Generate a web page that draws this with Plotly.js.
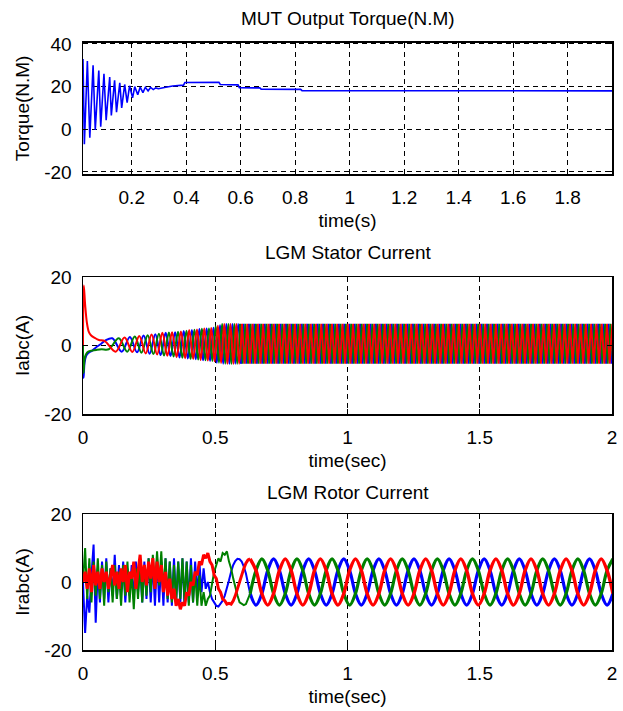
<!DOCTYPE html>
<html><head><meta charset="utf-8">
<script src="https://cdn.plot.ly/plotly-3.0.1.min.js"></script>
<style>html,body{margin:0;padding:0;background:#fff}#chart{width:623px;height:711px}</style>
</head><body><div id="chart"></div>
<script>
// ---------- Top: MUT output torque ----------
const torqueT = [0.021,0.026,0.037,0.046,0.058,0.066,0.079,0.086,0.098,0.106,0.119,0.125,0.137,0.144,0.156,0.163,0.174,0.183,0.192,0.203,0.211,0.222,0.231,0.241,0.250,0.260,0.269,0.279,0.288,0.298,0.32,0.35,0.39,0.395,0.52,0.525,0.59,0.595,0.67,0.675,0.82,0.825,1.963];
const torqueY = [33,-7,32,-4,30,-0.3,27.5,1.2,26,4.2,24.5,6.5,23,8,21.8,10,21,12.5,20.4,14.7,20,16.2,19.8,17.2,19.7,18,19.6,18.6,19.4,19,19.6,20.3,20.7,21.9,22,21,20.8,19.5,19.4,18.8,18.7,18.1,18];

// ---------- Middle: LGM stator current (early transient, peaks/troughs) ----------
const statorRedT = [0,0.003,0.008,0.015,0.022,0.03,0.045,0.06,0.0824,0.1234,0.1571,0.1865,0.2129,0.2370,0.2593,0.2802,0.3000,0.3188,0.3367,0.3538,0.3703,0.3862,0.4015,0.4164,0.4308,0.4448,0.4585,0.4718,0.4848,0.4975,0.5099,0.5221,0.5340,0.5457,0.5571,0.5684,0.5795,0.5904,0.6011];
const statorRedY = [0,17.5,12,6.5,4,3,2.2,1.6,1.3,-1.8,2.3,-1.9,2.8,-2.3,3.2,-2.6,3.7,-3.0,3.9,-3.4,4.1,-3.7,4.5,-3.9,4.7,-4.2,5.0,-4.4,5.1,-4.6,5.8,-5.1,6.3,-5.3,6.3,-5.3,6.3,-5.3,6.3];
const statorGreenT = [0,0.002,0.006,0.012,0.02,0.035,0.05,0.07,0.0972,0.1353,0.1673,0.1956,0.2211,0.2446,0.2664,0.2869,0.3064,0.3248,0.3424,0.3594,0.3756,0.3913,0.4065,0.4212,0.4355,0.4494,0.4630,0.4762,0.4891,0.5017,0.5140,0.5261,0.5379,0.5495,0.5609,0.5721,0.5831,0.594];
const statorGreenY = [0,-8,-4,-2.5,-1.8,-1.5,-1.3,-1.1,-1.1,2.1,-1.8,2.6,-2.1,3.0,-2.5,3.4,-2.9,3.8,-3.2,4.0,-3.6,4.3,-3.9,4.6,-4.1,4.9,-4.3,5.0,-4.5,5.6,-5.0,6.3,-5.3,6.3,-5.3,6.3,-5.3,6.3];
const statorBlueT = [0,0.002,0.006,0.012,0.02,0.035,0.05,0.065,0.085,0.1108,0.1465,0.1771,0.2044,0.2291,0.2520,0.2734,0.2935,0.3126,0.3308,0.3482,0.3649,0.3809,0.3965,0.4115,0.4260,0.4402,0.4540,0.4674,0.4805,0.4933,0.5058,0.5180,0.5300,0.5418,0.5533,0.5647,0.5758,0.5867,0.5975];
const statorBlueY = [0,-9.5,-5,-3,-2.2,-1.5,-0.5,0.3,1.5,2.1,-1.8,2.5,-2.0,2.9,-2.4,3.3,-2.8,3.7,-3.1,3.9,-3.5,4.2,-3.8,4.5,-4.0,4.8,-4.3,5.0,-4.5,5.2,-5.0,5.9,-5.3,6.3,-5.3,6.3,-5.3,6.3,-5.3];

// steady state stator current: successive peaks/troughs, one every 10 ms
const statorSteadyStep = 0.01;
const statorRedSteadyStart = 0.6011, statorGreenSteadyStart = 0.594, statorBlueSteadyStart = 0.5975;
const statorRedSteady = [
6.3,-5.3,6.3,-5.3,6.3,-5.3,6.3,-5.3,6.3,-5.3,
6.3,-5.3,6.3,-5.3,6.3,-5.3,6.3,-5.3,6.3,-5.3,
6.3,-5.3,6.3,-5.3,6.3,-5.3,6.3,-5.3,6.3,-5.3,
6.3,-5.3,6.3,-5.3,6.3,-5.3,6.3,-5.3,6.3,-5.3,
6.3,-5.3,6.3,-5.3,6.3,-5.3,6.3,-5.3,6.3,-5.3,
6.3,-5.3,6.3,-5.3,6.3,-5.3,6.3,-5.3,6.3,-5.3,
6.3,-5.3,6.3,-5.3,6.3,-5.3,6.3,-5.3,6.3,-5.3,
6.3,-5.3,6.3,-5.3,6.3,-5.3,6.3,-5.3,6.3,-5.3,
6.3,-5.3,6.3,-5.3,6.3,-5.3,6.3,-5.3,6.3,-5.3,
6.3,-5.3,6.3,-5.3,6.3,-5.3,6.3,-5.3,6.3,-5.3,
6.3,-5.3,6.3,-5.3,6.3,-5.3,6.3,-5.3,6.3,-5.3,
6.3,-5.3,6.3,-5.3,6.3,-5.3,6.3,-5.3,6.3,-5.3,
6.3,-5.3,6.3,-5.3,6.3,-5.3,6.3,-5.3,6.3,-5.3,
6.3,-5.3,6.3,-5.3,6.3,-5.3,6.3,-5.3,6.3,-5.3,
6.3];
const statorGreenSteady = [
6.3,-5.3,6.3,-5.3,6.3,-5.3,6.3,-5.3,6.3,-5.3,
6.3,-5.3,6.3,-5.3,6.3,-5.3,6.3,-5.3,6.3,-5.3,
6.3,-5.3,6.3,-5.3,6.3,-5.3,6.3,-5.3,6.3,-5.3,
6.3,-5.3,6.3,-5.3,6.3,-5.3,6.3,-5.3,6.3,-5.3,
6.3,-5.3,6.3,-5.3,6.3,-5.3,6.3,-5.3,6.3,-5.3,
6.3,-5.3,6.3,-5.3,6.3,-5.3,6.3,-5.3,6.3,-5.3,
6.3,-5.3,6.3,-5.3,6.3,-5.3,6.3,-5.3,6.3,-5.3,
6.3,-5.3,6.3,-5.3,6.3,-5.3,6.3,-5.3,6.3,-5.3,
6.3,-5.3,6.3,-5.3,6.3,-5.3,6.3,-5.3,6.3,-5.3,
6.3,-5.3,6.3,-5.3,6.3,-5.3,6.3,-5.3,6.3,-5.3,
6.3,-5.3,6.3,-5.3,6.3,-5.3,6.3,-5.3,6.3,-5.3,
6.3,-5.3,6.3,-5.3,6.3,-5.3,6.3,-5.3,6.3,-5.3,
6.3,-5.3,6.3,-5.3,6.3,-5.3,6.3,-5.3,6.3,-5.3,
6.3,-5.3,6.3,-5.3,6.3,-5.3,6.3,-5.3,6.3,-5.3,
6.3,-5.3];
const statorBlueSteady = [
-5.3,6.3,-5.3,6.3,-5.3,6.3,-5.3,6.3,-5.3,6.3,
-5.3,6.3,-5.3,6.3,-5.3,6.3,-5.3,6.3,-5.3,6.3,
-5.3,6.3,-5.3,6.3,-5.3,6.3,-5.3,6.3,-5.3,6.3,
-5.3,6.3,-5.3,6.3,-5.3,6.3,-5.3,6.3,-5.3,6.3,
-5.3,6.3,-5.3,6.3,-5.3,6.3,-5.3,6.3,-5.3,6.3,
-5.3,6.3,-5.3,6.3,-5.3,6.3,-5.3,6.3,-5.3,6.3,
-5.3,6.3,-5.3,6.3,-5.3,6.3,-5.3,6.3,-5.3,6.3,
-5.3,6.3,-5.3,6.3,-5.3,6.3,-5.3,6.3,-5.3,6.3,
-5.3,6.3,-5.3,6.3,-5.3,6.3,-5.3,6.3,-5.3,6.3,
-5.3,6.3,-5.3,6.3,-5.3,6.3,-5.3,6.3,-5.3,6.3,
-5.3,6.3,-5.3,6.3,-5.3,6.3,-5.3,6.3,-5.3,6.3,
-5.3,6.3,-5.3,6.3,-5.3,6.3,-5.3,6.3,-5.3,6.3,
-5.3,6.3,-5.3,6.3,-5.3,6.3,-5.3,6.3,-5.3,6.3,
-5.3,6.3,-5.3,6.3,-5.3,6.3,-5.3,6.3,-5.3,6.3,
-5.3,6.3];

// ---------- Bottom: LGM rotor current ----------
// start-up part, sampled every 8 ms from t = 0
const rotorEarlyStep = 0.008;
const rotorRedEarly = [0,3,-2,4,-3,5,-1,3,-2,4,0,3,-2,2,5,-1,3,-2,4,0,5,-3,3,1,6,-2,4,8,0,5,-1,6,1,7,-2,6,0,5,-3,3,-4,1,-5,-2,-7,-5,-8,-6,-7,-3,-4,0,-1,3,2,6,5,8,7,8.5,6,5,2,1,-2,-3,-5,-5.5,-6.5,-6.3,-6.5,-5.5,-4,-2,0,2.5,4,5.5,6.5,6.8];
const rotorGreenEarly = [0,10,-5,7,-6,6,-4,7,-5,5,-7,6,-3,4,-6,5,-5,3,-7,5,-4,6,-6,3,-8,4,-5,6,-6,5,-4,7,-3,8,-2,9,-1,9,-3,7,-5,6,-6,5,-6,6,-5,7,-6,6,-7,5,-6,3,-7,2,-7,-3,-7,-5,-4,0,3,5,7,6,8.5,8,9,6,4,1,-2,-4,-6,-6.5,-6.8,-6.5,-5,-3.4];
const rotorBlueEarly = [0,-15,-4,-9,2,11,-12,4,-6,6,-5,7,-6,4,-4,8,-5,5,-3,6,-6,4,-4,5,-5,6,-3,5,-6,6,-5,7,-6,6,-7,7,-6,6,-7,7,-6,6,-7,7,-6,6,-6,7,-7,6,-6,7,-6,6,-4,6,-3,4,-2,0,-3,-5,-6,-7,-7.2,-6.5,-5.5,-4,-2,0.5,3,5,6.2,6.8,6.7,6,4.5,2.5,-0.5,-3.4];
// steady part from t = 0.632, six samples per slip period (0.1327 s)
const rotorSteadyStart = 0.632, rotorSteadyStep = 0.02212;
const rotorRedSteady = [6.8,3.4,-3.4,-6.8,-3.4,3.4, 6.8,3.4,-3.4,-6.8,-3.4,3.4, 6.8,3.4,-3.4,-6.8,-3.4,3.4, 6.8,3.4,-3.4,-6.8,-3.4,3.4, 6.8,3.4,-3.4,-6.8,-3.4,3.4, 6.8,3.4,-3.4,-6.8,-3.4,3.4, 6.8,3.4,-3.4,-6.8,-3.4,3.4, 6.8,3.4,-3.4,-6.8,-3.4,3.4, 6.8,3.4,-3.4,-6.8,-3.4,3.4, 6.8,3.4,-3.4,-6.8,-3.4,3.4, 6.8,3.4,-3.4];
const rotorGreenSteady = [-3.4,3.4,6.8,3.4,-3.4,-6.8, -3.4,3.4,6.8,3.4,-3.4,-6.8, -3.4,3.4,6.8,3.4,-3.4,-6.8, -3.4,3.4,6.8,3.4,-3.4,-6.8, -3.4,3.4,6.8,3.4,-3.4,-6.8, -3.4,3.4,6.8,3.4,-3.4,-6.8, -3.4,3.4,6.8,3.4,-3.4,-6.8, -3.4,3.4,6.8,3.4,-3.4,-6.8, -3.4,3.4,6.8,3.4,-3.4,-6.8, -3.4,3.4,6.8,3.4,-3.4,-6.8, -3.4,3.4,6.8];
const rotorBlueSteady = [-3.4,-6.8,-3.4,3.4,6.8,3.4, -3.4,-6.8,-3.4,3.4,6.8,3.4, -3.4,-6.8,-3.4,3.4,6.8,3.4, -3.4,-6.8,-3.4,3.4,6.8,3.4, -3.4,-6.8,-3.4,3.4,6.8,3.4, -3.4,-6.8,-3.4,3.4,6.8,3.4, -3.4,-6.8,-3.4,3.4,6.8,3.4, -3.4,-6.8,-3.4,3.4,6.8,3.4, -3.4,-6.8,-3.4,3.4,6.8,3.4, -3.4,-6.8,-3.4,3.4,6.8,3.4, -3.4,-6.8,-3.4];

// ---------- ticks / titles ----------
const topXTicks = [0.2,0.4,0.6,0.8,1,1.2,1.4,1.6,1.8];
const topXLabels = ['0.2','0.4','0.6','0.8','1','1.2','1.4','1.6','1.8'];
const topYTicks = [-20,0,20,40];
const topYLabels = ['-20','0','20','40'];
const timeTicks = [0,0.5,1,1.5,2];
const timeLabels = ['0','0.5','1','1.5','2'];
const curTicks = [-20,0,20];
const curLabels = ['-20','0','20'];
const panelTitles = ['MUT Output Torque(N.M)','LGM Stator Current','LGM Rotor Current'];

const BLUE = '#0000ff', GREEN = '#008000', RED = '#ff0000';

const traces = [
  {x: torqueT, y: torqueY, xaxis:'x', yaxis:'y', mode:'lines', line:{color:BLUE, width:1.6}},

  {x: statorBlueT, y: statorBlueY, xaxis:'x2', yaxis:'y2', mode:'lines', line:{color:BLUE, width:2, shape:'spline'}},
  {y: statorBlueSteady, x0: statorBlueSteadyStart, dx: statorSteadyStep, xaxis:'x2', yaxis:'y2', mode:'lines', line:{color:BLUE, width:1.8}},
  {x: statorGreenT, y: statorGreenY, xaxis:'x2', yaxis:'y2', mode:'lines', line:{color:GREEN, width:2, shape:'spline'}},
  {y: statorGreenSteady, x0: statorGreenSteadyStart, dx: statorSteadyStep, xaxis:'x2', yaxis:'y2', mode:'lines', line:{color:GREEN, width:1.8}},
  {x: statorRedT, y: statorRedY, xaxis:'x2', yaxis:'y2', mode:'lines', line:{color:RED, width:2, shape:'spline'}},
  {y: statorRedSteady, x0: statorRedSteadyStart, dx: statorSteadyStep, xaxis:'x2', yaxis:'y2', mode:'lines', line:{color:RED, width:1.8}},

  {y: rotorBlueEarly, x0: 0, dx: rotorEarlyStep, xaxis:'x3', yaxis:'y3', mode:'lines', line:{color:BLUE, width:2}},
  {y: rotorBlueSteady, x0: rotorSteadyStart, dx: rotorSteadyStep, xaxis:'x3', yaxis:'y3', mode:'lines', line:{color:BLUE, width:3.2, shape:'spline'}},
  {y: rotorGreenEarly, x0: 0, dx: rotorEarlyStep, xaxis:'x3', yaxis:'y3', mode:'lines', line:{color:GREEN, width:2}},
  {y: rotorGreenSteady, x0: rotorSteadyStart, dx: rotorSteadyStep, xaxis:'x3', yaxis:'y3', mode:'lines', line:{color:GREEN, width:3.2, shape:'spline'}},
  {y: rotorRedEarly, x0: 0, dx: rotorEarlyStep, xaxis:'x3', yaxis:'y3', mode:'lines', line:{color:RED, width:3}},
  {y: rotorRedSteady, x0: rotorSteadyStart, dx: rotorSteadyStep, xaxis:'x3', yaxis:'y3', mode:'lines', line:{color:RED, width:3.4, shape:'spline'}}
];

const FONT = 'Liberation Sans, Arial, Helvetica, sans-serif';
const axBase = {
  showline:true, mirror:'ticks', linecolor:'#000', linewidth:1.5,
  ticks:'inside', ticklen:5, tickcolor:'#000', tickwidth:1,
  showgrid:true, gridcolor:'#000', gridwidth:1, griddash:'5px,4px',
  zeroline:false, fixedrange:true, ticklabelstandoff:6, automargin:false,
  tickfont:{family:FONT, size:19, color:'#000'}
};
const XD = [83/623, 612/623];
function ax(extra){ return Object.assign({}, axBase, extra); }
function xt(t){ return {text:t, font:{family:FONT,size:19,color:'#000'}, standoff:6}; }
function yt(t){ return {text:t, font:{family:FONT,size:19,color:'#000'}, standoff:9}; }

const layout = {
  width:623, height:711,
  margin:{l:0, r:0, t:0, b:0},
  paper_bgcolor:'#fff', plot_bgcolor:'#fff',
  showlegend:false,
  font:{family:FONT, size:19, color:'#000'},
  xaxis: ax({domain:XD, anchor:'y', range:[0.021,1.963], tickmode:'array', tickvals:topXTicks, ticktext:topXLabels, title:xt('time(s)')}),
  yaxis: ax({domain:[1-174/711, 1-42.7/711], anchor:'x', range:[-21,40.6], tickmode:'array', tickvals:topYTicks, ticktext:topYLabels, title:yt('Torque(N.M)')}),
  xaxis2: ax({domain:XD, anchor:'y2', range:[0,2], tickmode:'array', tickvals:timeTicks, ticktext:timeLabels, title:xt('time(sec)')}),
  yaxis2: ax({domain:[1-414/711, 1-277/711], anchor:'x2', range:[-20,20], tickmode:'array', tickvals:curTicks, ticktext:curLabels, title:yt('Iabc(A)')}),
  xaxis3: ax({domain:XD, anchor:'y3', range:[0,2], tickmode:'array', tickvals:timeTicks, ticktext:timeLabels, title:xt('time(sec)')}),
  yaxis3: ax({domain:[1-650/711, 1-514/711], anchor:'x3', range:[-20,20], tickmode:'array', tickvals:curTicks, ticktext:curLabels, title:yt('Irabc(A)')}),
  annotations: [
    {text:panelTitles[0], xref:'paper', yref:'paper', x:(XD[0]+XD[1])/2, y:1-18/711, xanchor:'center', yanchor:'middle', showarrow:false, font:{family:FONT,size:19,color:'#000'}},
    {text:panelTitles[1], xref:'paper', yref:'paper', x:(XD[0]+XD[1])/2, y:1-253/711, xanchor:'center', yanchor:'middle', showarrow:false, font:{family:FONT,size:19,color:'#000'}},
    {text:panelTitles[2], xref:'paper', yref:'paper', x:(XD[0]+XD[1])/2, y:1-492/711, xanchor:'center', yanchor:'middle', showarrow:false, font:{family:FONT,size:19,color:'#000'}}
  ]
};

Plotly.newPlot('chart', traces, layout, {displayModeBar:false, staticPlot:true});
</script></body></html>
